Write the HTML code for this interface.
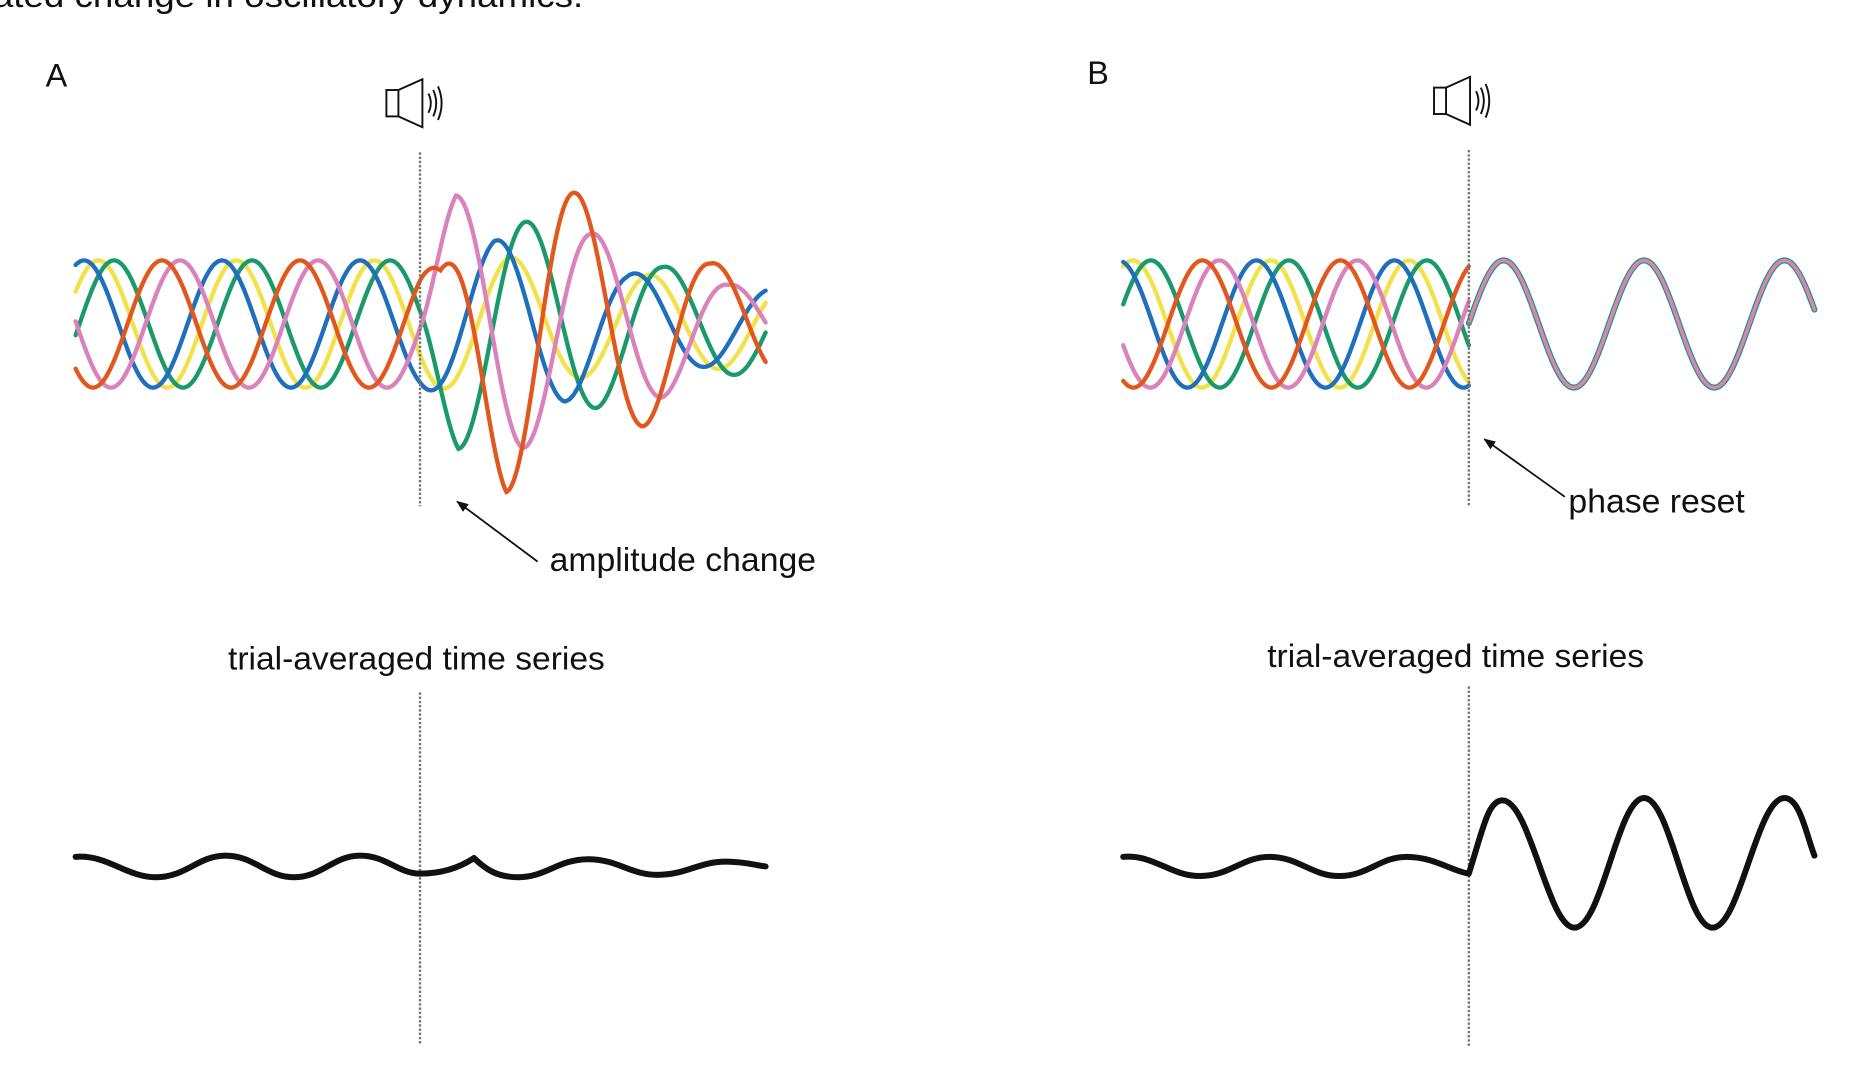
<!DOCTYPE html>
<html><head><meta charset="utf-8"><style>
html,body{margin:0;padding:0;background:#fff;}
svg{display:block;}
text{font-family:"Liberation Sans",Arial,sans-serif;fill:#111;}
</style></head><body>
<svg id="s" width="1858" height="1078" viewBox="0 0 1548.3 898.3" preserveAspectRatio="none" xmlns="http://www.w3.org/2000/svg">
<defs><marker id="ah" markerWidth="10" markerHeight="8" refX="9" refY="4" orient="auto" markerUnits="userSpaceOnUse"><path d="M0,0 L10,4 L0,8 Z" fill="#111"/></marker></defs>
<text x="-6" y="6" font-size="28" textLength="492" lengthAdjust="spacingAndGlyphs" fill="#222">ated change in oscillatory dynamics.</text>
<text x="38" y="72" font-size="27">A</text>
<text x="906" y="70" font-size="27">B</text>
<g fill="none" stroke="#111" stroke-width="1.6">
<rect x="322" y="75" width="10" height="22"/><path d="M332,75 L352,66 L352,106 L332,97"/>
<path d="M357,78 Q361,86 357,94"/><path d="M361,75 Q366,86 361,97"/><path d="M365,72 Q371,86 365,100"/>
<rect x="1195" y="73" width="10" height="22"/><path d="M1205,73 L1225,64 L1225,104 L1205,95"/>
<path d="M1230,76 Q1234,84 1230,92"/><path d="M1234,73 Q1239,84 1234,95"/><path d="M1238,70 Q1244,84 1238,98"/>
</g>
<g id="w"></g>
<g stroke="#777" stroke-width="2" stroke-dasharray="2,1.5">
<line x1="350" y1="127" x2="350" y2="422"/><line x1="1224" y1="125" x2="1224" y2="422"/>
<line x1="350" y1="577" x2="350" y2="870"/><line x1="1224" y1="572" x2="1224" y2="872"/>
</g>
<line x1="448" y1="468" x2="381" y2="418" stroke="#111" stroke-width="1.5" marker-end="url(#ah)"/>
<line x1="1304" y1="414" x2="1237" y2="366" stroke="#111" stroke-width="1.5" marker-end="url(#ah)"/>
<text x="458" y="476" font-size="28" textLength="222" lengthAdjust="spacingAndGlyphs">amplitude change</text>
<text x="1307" y="427" font-size="28" textLength="147" lengthAdjust="spacingAndGlyphs">phase reset</text>
<text x="190" y="558" font-size="27" textLength="314" lengthAdjust="spacingAndGlyphs">trial-averaged time series</text>
<text x="1056" y="556" font-size="27" textLength="314" lengthAdjust="spacingAndGlyphs">trial-averaged time series</text>
<g fill="none" stroke="#111" stroke-width="5" stroke-linejoin="round" stroke-linecap="round">
<path d="M63,714 C90,712 105,731 130,731 C155,731 165,713 188,713 C212,713 222,731 245,731 C268,731 278,713 300,713 C322,713 332,728 350,728 C365,728 380,725 395,715 C405,725 415,731 432,731 C455,731 465,716 490,716 C515,716 525,729 548,729 C572,729 582,718 605,718 C620,718 630,721 638,722"/>
<path d="M936,714 C962,712 975,730 1000,730 C1025,730 1035,714 1058,714 C1082,714 1093,730 1116,730 C1140,730 1150,714 1172,714 C1195,714 1210,726 1224,728 C1236,690 1240,667 1252,667 C1275,667 1290,773 1312,773 C1335,773 1348,665 1370,665 C1392,665 1405,773 1427,773 C1450,773 1464,665 1487,665 C1500,665 1505,695 1512,713"/>
</g>
</svg>
<script>
(function(){
var g=document.getElementById('w'),NS='http://www.w3.org/2000/svg',P=115,c=270;
function interp(pts,x){if(x<=pts[0][0])return pts[0][1];for(var i=1;i<pts.length;i++){if(x<=pts[i][0]){var a=pts[i-1],b=pts[i];return a[1]+(b[1]-a[1])*(x-a[0])/(b[0]-a[0]);}}return pts[pts.length-1][1];}
function path(x0,x1,f){var d='';for(var x=x0;x<=x1;x+=1){d+=(x==x0?'M':'L')+x.toFixed(1)+','+f(x).toFixed(1);}return d;}
function add(d,col,w){var p=document.createElementNS(NS,'path');p.setAttribute('d',d);p.setAttribute('fill','none');p.setAttribute('stroke',col);p.setAttribute('stroke-width',w);p.setAttribute('stroke-linecap','round');g.appendChild(p);}
var A=[
['#f2e24a',82,[[350,53],[425,56],[480,45],[638,35]]],
['#1a9a6a',95,[[350,53],[382,104],[440,85],[497,70],[552,48],[638,40]]],
['#1f6fbd',70,[[350,53],[412,70],[470,65],[522,43],[638,30]]],
['#d982bc',150,[[350,53],[380,107],[435,104],[492,76],[550,62],[607,33],[638,30]]],
['#e0581e',135,[[350,53],[367,45],[422,140],[480,109],[535,86],[592,51],[638,45]]]
];
A.forEach(function(t){add(path(63,638,function(x){return c-interp(t[2],x)*Math.cos(2*Math.PI*(x-t[1])/P);}),t[0],3.6);});
var B=[['#f2e24a',944],['#1a9a6a',959],['#1f6fbd',932],['#d982bc',1016],['#e0581e',1002]];
B.forEach(function(t){add(path(936,1224,function(x){return c-53*Math.cos(2*Math.PI*(x-t[1])/P);}),t[0],3.6);});
var f=function(x){return c-53*Math.cos(2*Math.PI*(x-1253)/117);};
add(path(1224,1512,f),'#1a9a6a',5);add(path(1224,1512,f),'#d982bc',3);
})();
</script>
</body></html>
